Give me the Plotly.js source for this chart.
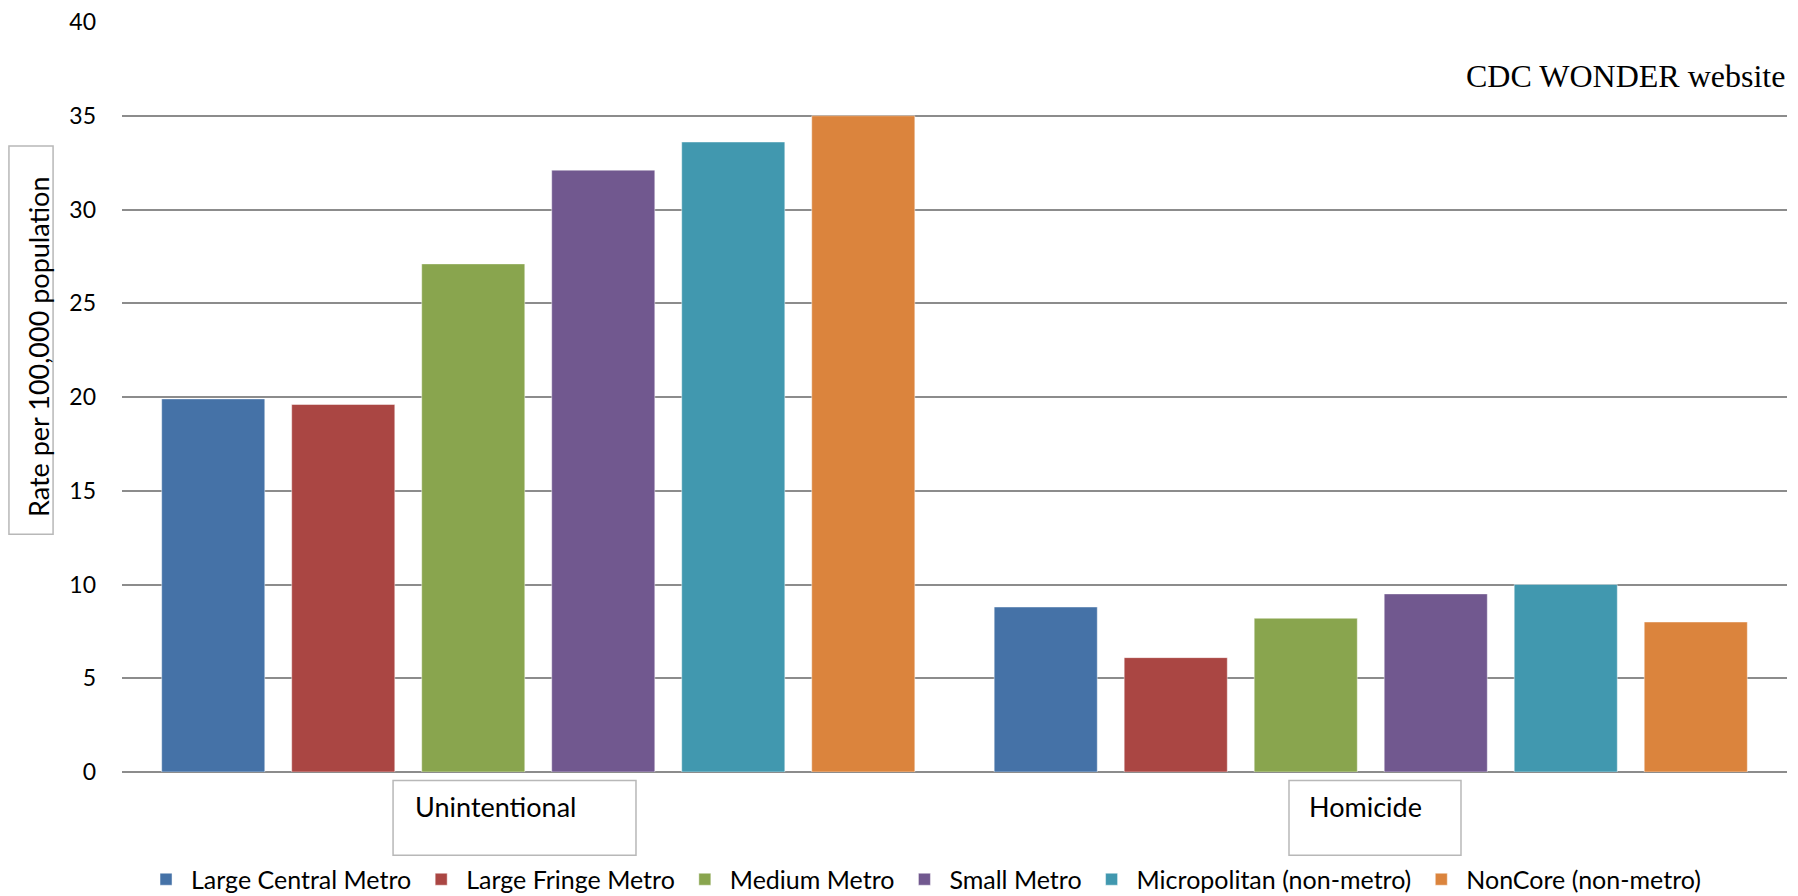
<!DOCTYPE html>
<html>
<head>
<meta charset="utf-8">
<script src="https://cdn.plot.ly/plotly-3.0.1.min.js"></script>
<style>
  html, body { margin: 0; padding: 0; background: #ffffff; }
  #chart { width: 1798px; height: 896px; }
</style>
</head>
<body>
<div id="chart"></div>
<script>
// Injury death rates by urbanization level
const categories = ['Unintentional', 'Homicide'];
const seriesNames = [
  'Large Central Metro',
  'Large Fringe Metro',
  'Medium Metro',
  'Small Metro',
  'Micropolitan (non-metro)',
  'NonCore (non-metro)'
];
const largeCentral = [19.9, 8.8];
const largeFringe = [19.6, 6.1];
const mediumMetro = [27.1, 8.2];
const smallMetro = [32.1, 9.5];
const micropolitan = [33.6, 10.0];
const nonCore = [35.0, 8.0];
const yTicks = [0, 5, 10, 15, 20, 25, 30, 35, 40];

const seriesValues = [largeCentral, largeFringe, mediumMetro, smallMetro, micropolitan, nonCore];
const colors = ['#4572A7', '#AA4643', '#89A54E', '#71588F', '#4198AF', '#DB843D'];

const FONT = 'Lato, "Open Sans", sans-serif';

const traces = seriesNames.map((name, i) => ({
  type: 'bar',
  name: name,
  x: categories,
  y: seriesValues[i],
  marker: { color: colors[i], line: { color: 'rgba(255,255,255,0.45)', width: 1 } },
  hoverinfo: 'x+y+name'
}));

const boxLine = { color: '#b8b8b8', width: 1.5 };

const layout = {
  width: 1798,
  height: 896,
  margin: { l: 122, r: 11, t: 22, b: 124, autoexpand: false },
  paper_bgcolor: '#ffffff',
  plot_bgcolor: '#ffffff',
  barmode: 'group',
  bargap: 0.063,
  bargroupgap: 0.207,
  font: { family: FONT, size: 22, color: '#000000' },
  showlegend: true,
  legend: {
    orientation: 'h',
    x: 0.4814,
    xanchor: 'center',
    y: -0.1433,
    yanchor: 'middle',
    itemwidth: 40,
    font: { family: FONT, size: 25, color: '#000000' },
    traceorder: 'normal',
    itemclick: false
  },
  xaxis: {
    type: 'category',
    showticklabels: false,
    showgrid: false,
    zeroline: false,
    showline: false,
    ticks: ''
  },
  yaxis: {
    range: [0, 40],
    tickvals: yTicks,
    ticktext: yTicks.map(String),
    showgrid: true,
    gridcolor: '#8c8c8c',
    gridwidth: 1.5,
    zeroline: true,
    zerolinecolor: '#8c8c8c',
    zerolinewidth: 2,
    showline: false,
    ticks: '',
    ticklabelstandoff: 25,
    tickfont: { family: FONT, size: 23, color: '#000000' },
    fixedrange: true
  },
  shapes: [
    // y-axis title frame
    { type: 'rect', xref: 'paper', yref: 'paper', x0: -0.0679, x1: -0.0414, y0: 0.317, y1: 0.8346, line: boxLine, fillcolor: 'rgba(0,0,0,0)' },
    // category label frames
    { type: 'rect', xref: 'paper', yref: 'paper', x0: 0.1628, x1: 0.3087, y0: -0.0112, y1: -0.1111, line: boxLine, fillcolor: 'rgba(0,0,0,0)' },
    { type: 'rect', xref: 'paper', yref: 'paper', x0: 0.7009, x1: 0.8042, y0: -0.0112, y1: -0.1111, line: boxLine, fillcolor: 'rgba(0,0,0,0)' }
  ],
  annotations: [
    {
      text: 'Rate per 100,000 population',
      xref: 'paper', yref: 'paper',
      x: -0.0505, y: 0.5678,
      xanchor: 'center', yanchor: 'middle',
      textangle: -90,
      showarrow: false,
      font: { family: FONT, size: 27, color: '#000000' }
    },
    {
      text: categories[0],
      xref: 'paper', yref: 'paper',
      x: 0.1748, y: -0.0459,
      xanchor: 'left', yanchor: 'middle',
      showarrow: false,
      font: { family: FONT, size: 27, color: '#000000' }
    },
    {
      text: categories[1],
      xref: 'paper', yref: 'paper',
      x: 0.7117, y: -0.0459,
      xanchor: 'left', yanchor: 'middle',
      showarrow: false,
      font: { family: FONT, size: 27, color: '#000000' }
    },
    {
      text: 'CDC WONDER website',
      xref: 'paper', yref: 'paper',
      x: 1.0, y: 0.9285,
      xanchor: 'right', yanchor: 'middle',
      showarrow: false,
      font: { family: '"Liberation Serif", "Times New Roman", serif', size: 32, color: '#000000' }
    }
  ]
};

Plotly.newPlot('chart', traces, layout, { displayModeBar: false, staticPlot: false, responsive: false });
</script>
</body>
</html>
